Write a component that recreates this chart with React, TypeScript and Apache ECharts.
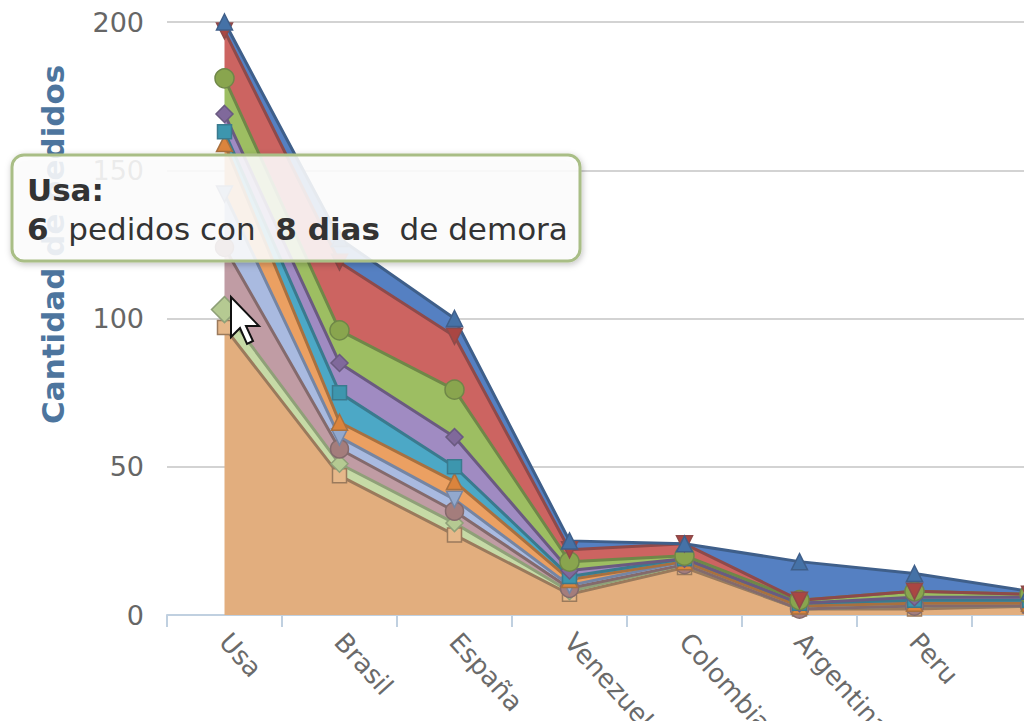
import React, { useEffect, useRef } from 'react';
import * as echarts from 'echarts';

// Categories (countries)
const categories = ['Usa', 'Brasil', 'España', 'Venezuela', 'Colombia', 'Argentina', 'Peru', 'Chile'];

// Series values (orders per delay), listed bottom of the stack to top
const dias9 = [97, 47, 27, 7, 16, 2, 2, 3];
const dias8 = [6, 4, 4, 1, 1, 0, 1, 0];
const dias7 = [21, 5, 4, 1, 0, 0, 0, 0];
const dias6 = [18, 4, 4, 1, 1, 1, 1, 1];
const dias5 = [17, 5, 6, 2, 0, 0, 0, 0];
const dias4 = [4, 10, 5, 1, 1, 1, 1, 1];
const dias3 = [6, 10, 10, 2, 0, 0, 1, 1];
const dias2 = [12, 11, 16, 3, 1, 1, 2, 1];
const dias1 = [16, 23, 18, 4, 4, 0, 0, 0];
const dias0 = [3, 8, 6, 3, 0, 13, 6, 1];

const seriesNames = ['9 dias', '8 dias', '7 dias', '6 dias', '5 dias', '4 dias', '3 dias', '2 dias', '1 dias', '0 dias'];
const seriesValues = [dias9, dias8, dias7, dias6, dias5, dias4, dias3, dias2, dias1, dias0];

// y axis ticks
const yMin = 0;
const yMax = 250;
const yStep = 50;

// tooltip content
const tipCategory = 'Usa';
const tipCount = 6;
const tipSeries = '8 dias';

// styles (bottom to top)
const fillColors = ['#E2AE7E', '#C6DAA6', '#C09CA4', '#A9BAE0', '#EBA062', '#4CA8C6', '#A08BC2', '#9DBE62', '#CC6461', '#5580C2'];
const lineColors = ['#9A7A5C', '#8FA078', '#846A6C', '#7585A3', '#A8703F', '#3A7A8E', '#6A5A80', '#6F8748', '#8E4A4A', '#3F5F8A'];
const markerColors = ['#E6B88A', '#B5CA92', '#A47D7C', '#92A8CD', '#DB843D', '#3D96AE', '#80699B', '#89A54E', '#AA4643', '#4572A7'];
const symbols = ['rect', 'diamond', 'circle', 'triangle', 'triangle', 'rect', 'diamond', 'circle', 'triangle', 'triangle'];
const symbolRotates = [0, 0, 0, 180, 0, 0, 0, 0, 180, 0];
const symbolSizes = [14, 17, 18, 16, 16, 14, 17, 19, 16, 16];

const FONT = 'DejaVu Sans, Verdana, sans-serif';

export default function App() {
  const ref = useRef<HTMLDivElement>(null);

  useEffect(() => {
    if (!ref.current) return;
    const chart = echarts.init(ref.current, undefined, { renderer: 'svg' });

    const series = seriesValues.map((vals, i) => ({
      name: seriesNames[i],
      type: 'line',
      stack: 'total',
      data: vals.map((v, j) =>
        seriesNames[i] === tipSeries && categories[j] === tipCategory
          ? { value: v, symbolSize: 26 }
          : v
      ),
      symbol: symbols[i],
      symbolRotate: symbolRotates[i],
      symbolSize: symbolSizes[i],
      showSymbol: true,
      showAllSymbol: true,
      lineStyle: { color: lineColors[i], width: 3 },
      areaStyle: { color: fillColors[i], opacity: 1 },
      itemStyle: { color: markerColors[i], borderColor: lineColors[i], borderWidth: 1.5 },
      emphasis: { disabled: true },
      z: 2,
    }));

    chart.setOption({
      animation: false,
      textStyle: { fontFamily: FONT },
      grid: { left: 167, right: -63, top: -126.25, bottom: 106, outerBoundsMode: 'none', containLabel: false },
      xAxis: {
        type: 'category',
        data: categories,
        boundaryGap: true,
        axisLine: { lineStyle: { color: '#C0D0E0', width: 2 } },
        axisTick: { show: true, length: 12, lineStyle: { color: '#C0D0E0', width: 2 } },
        axisLabel: { rotate: -48, margin: 22, fontSize: 26, color: '#6A6A6A', fontFamily: FONT },
        splitLine: { show: false },
      },
      yAxis: {
        type: 'value',
        min: yMin,
        max: yMax,
        interval: yStep,
        axisLine: { show: false },
        axisTick: { show: false },
        axisLabel: { fontSize: 27, color: '#666666', margin: 23, fontFamily: FONT },
        splitLine: { lineStyle: { color: '#C4C4C4', width: 1.5 } },
        name: 'Cantidad de pedidos',
        nameLocation: 'middle',
        nameRotate: 90,
        nameGap: 99,
        nameTextStyle: { fontSize: 31, fontWeight: 'bold', color: '#4D759E', fontFamily: FONT },
      },
      series,
      graphic: [
        {
          type: 'rect',
          z: 100,
          shape: { x: 12, y: 155, width: 568, height: 106, r: 12 },
          style: {
            fill: 'rgba(255,255,255,0.86)',
            stroke: '#A9BE86',
            lineWidth: 3,
            shadowBlur: 6,
            shadowColor: 'rgba(0,0,0,0.25)',
            shadowOffsetX: 1,
            shadowOffsetY: 2,
          },
        },
        {
          type: 'text',
          z: 101,
          x: 27,
          y: 170,
          style: {
            text: `{b|${tipCategory}:}\n{b|${tipCount}}{n|  pedidos con  }{b|${tipSeries}}{n|  de demora}`,
            fill: '#333333',
            font: `31px ${FONT}`,
            lineHeight: 39,
            rich: {
              b: { fontWeight: 'bold', fontSize: 31, fontFamily: FONT, fill: '#333333', lineHeight: 39 },
              n: { fontSize: 31, fontFamily: FONT, fill: '#333333', lineHeight: 39 },
            },
          },
        },
        {
          type: 'polygon',
          z: 102,
          x: 231,
          y: 297,
          shape: {
            points: [[0, 0], [0, 40], [9, 31], [16, 47], [22, 44], [15, 29], [28, 29]],
          },
          style: { fill: '#FFFFFF', stroke: '#111111', lineWidth: 2 },
        },
      ],
    });

    return () => chart.dispose();
  }, []);

  return (
    <div
      ref={ref}
      style={{ position: 'fixed', left: 0, top: 0, width: 1024, height: 721, background: '#FFFFFF' }}
    />
  );
}
